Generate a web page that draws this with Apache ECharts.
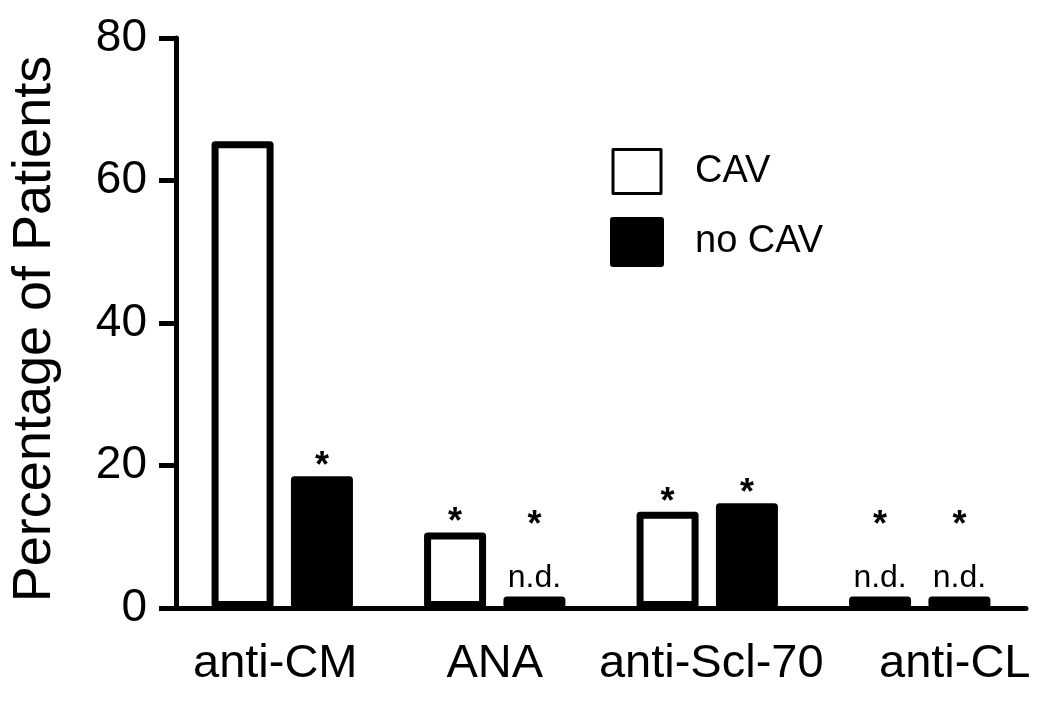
<!DOCTYPE html>
<html>
<head>
<meta charset="utf-8">
<script src="https://cdn.jsdelivr.net/npm/echarts@6/dist/echarts.min.js"></script>
<style>
html, body { margin: 0; padding: 0; background: #fff; }
#chart { width: 1050px; height: 705px; }
</style>
</head>
<body>
<div id="chart"></div>
<script>
// data
const categories = ['anti-CM', 'ANA', 'anti-Scl-70', 'anti-CL'];
const cav = [65.5, 10.6, 13.5, 1.6];
const noCav = [18.5, 1.6, 14.7, 1.6];
// significance / not-detected flags
const cavStar = [false, true, true, true];
const cavND = [false, false, false, true];
const noCavStar = [true, true, true, true];
const noCavND = [false, true, false, true];
const yTicks = [0, 20, 40, 60, 80];

const FONT = '"Liberation Sans", Arial, sans-serif';

// x label nudges (padding) to follow the original layout
const labelPad = { 'anti-CM': [0, 14, 0, 0], 'ANA': [0, 0, 0, 0], 'anti-Scl-70': [0, 0, 0, 8], 'anti-CL': [0, 0, 0, 70] };

function markLabel(stars, nds) {
    return {
        show: true,
        position: 'top',
        distance: 1,
        color: '#000',
        fontFamily: FONT,
        formatter: function (p) {
            const i = p.dataIndex;
            if (nds[i]) return stars[i] ? '{s2|*}\n{n|n.d.}' : '{n|n.d.}';
            return stars[i] ? '{s|*}' : '';
        },
        rich: {
            s: { fontSize: 36, fontWeight: 'bold', lineHeight: 16, fontFamily: FONT, color: '#000' },
            s2: { fontSize: 36, fontWeight: 'bold', lineHeight: 69, fontFamily: FONT, color: '#000' },
            n: { fontSize: 32, lineHeight: 35, fontFamily: FONT, color: '#000' }
        }
    };
}

const chart = echarts.init(document.getElementById('chart'), null, { renderer: 'canvas' });
chart.setOption({
    animation: false,
    backgroundColor: '#fff',
    textStyle: { fontFamily: FONT, color: '#000' },
    grid: { left: 172, right: 24, top: 38, bottom: 97, containLabel: false },
    legend: {
        orient: 'vertical',
        left: 610,
        top: 148,
        padding: 0,
        icon: 'rect',
        itemWidth: 48,
        itemHeight: 44,
        itemGap: 22,
        textStyle: { fontSize: 38, color: '#000', fontFamily: FONT, padding: [0, 0, 0, 29] },
        data: [
            { name: 'CAV', itemStyle: { borderWidth: 3, borderColor: '#000', color: '#fff' } },
            { name: 'no CAV', itemStyle: { borderWidth: 6, borderColor: '#000', color: '#000' } }
        ]
    },
    xAxis: {
        type: 'category',
        data: categories,
        axisLine: { lineStyle: { color: '#000', width: 5 } },
        axisTick: { alignWithLabel: true, length: 17, lineStyle: { color: '#000', width: 5 } },
        axisLabel: {
            interval: 0,
            margin: 33,
            color: '#000',
            fontSize: 47,
            fontFamily: FONT,
            formatter: function (v) {
                return '{' + (v === 'anti-CM' ? 'a' : v === 'ANA' ? 'b' : v === 'anti-Scl-70' ? 'c' : 'd') + '|' + v + '}';
            },
            rich: {
                a: { fontSize: 47, fontFamily: FONT, color: '#000', padding: labelPad['anti-CM'] },
                b: { fontSize: 47, fontFamily: FONT, color: '#000', padding: labelPad['ANA'] },
                c: { fontSize: 47, fontFamily: FONT, color: '#000', padding: labelPad['anti-Scl-70'] },
                d: { fontSize: 47, fontFamily: FONT, color: '#000', padding: labelPad['anti-CL'] }
            }
        },
        splitLine: { show: false }
    },
    yAxis: {
        type: 'value',
        min: yTicks[0],
        max: yTicks[yTicks.length - 1],
        interval: yTicks[1] - yTicks[0],
        name: 'Percentage of Patients',
        nameLocation: 'middle',
        nameGap: 114,
        nameTextStyle: { fontSize: 54, color: '#000', fontFamily: FONT, padding: [0, 12, 0, 0] },
        axisLine: { show: true, lineStyle: { color: '#000', width: 5 } },
        axisTick: { show: true, length: 17, lineStyle: { color: '#000', width: 5 } },
        axisLabel: { margin: 29, color: '#000', fontSize: 46, fontFamily: FONT },
        splitLine: { show: false }
    },
    series: [
        {
            name: 'CAV',
            type: 'bar',
            data: cav,
            barWidth: 62,
            barGap: '28%',
            itemStyle: { color: '#fff', borderColor: '#000', borderWidth: 7, borderJoin: 'round' },
            label: markLabel(cavStar, cavND)
        },
        {
            name: 'no CAV',
            type: 'bar',
            data: noCav,
            barWidth: 62,
            barGap: '28%',
            itemStyle: { color: '#000', borderColor: '#000', borderWidth: 7, borderJoin: 'round' },
            label: markLabel(noCavStar, noCavND)
        }
    ]
});
</script>
</body>
</html>
